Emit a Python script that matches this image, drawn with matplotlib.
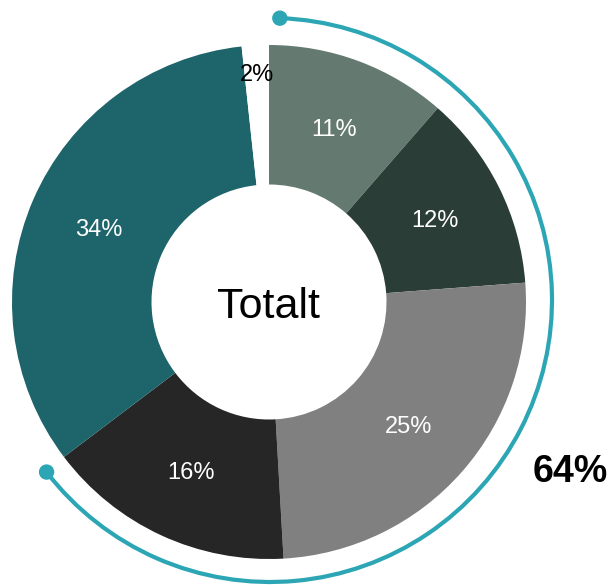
import numpy as np
import matplotlib.pyplot as plt
from matplotlib.patches import Arc, Circle

plt.rcParams['font.family'] = ['Liberation Sans', 'DejaVu Sans']

# ---------- Data ---------- #
shares = [11.4, 12.4, 25.3, 15.6, 33.6, 1.7]
labels = ["11%", "12%", "25%", "16%", "34%", "2%"]
colors = ["#647a70", "#2b3d37", "#808080", "#262626", "#1e646b", "#ffffff"]
label_colors = ["white", "white", "white", "white", "white", "black"]
highlight_share = 64   # first four slices
center_text = "Totalt"

# ---------- Geometry (pixel units) ---------- #
W, H = 610, 585
cx, cy = 269, H - 302
r_out, r_in = 257, 117.5
r_arc = 282

fig = plt.figure(figsize=(W / 100, H / 100), dpi=100)
ax = fig.add_axes([0, 0, 1, 1])

wedges, _ = ax.pie(shares, colors=colors, startangle=90, counterclock=False,
                   center=(cx, cy), radius=r_out,
                   wedgeprops=dict(width=r_out - r_in, edgecolor='none'))

# pie() resets limits, so set them afterwards
ax.set_xlim(0, W)
ax.set_ylim(0, H)
ax.set_aspect('equal')
ax.axis('off')

# slice labels
total = sum(shares)
start = 90
for i, (s, lab) in enumerate(zip(shares, labels)):
    span = s / total * 360
    mid = np.deg2rad(start - span / 2)
    r_lab = 229 if i == len(shares) - 1 else 186
    ax.text(cx + r_lab * np.cos(mid), cy + r_lab * np.sin(mid) - 2, lab,
            color=label_colors[i], fontsize=17, ha='center', va='center')
    start -= span

ax.text(cx, cy - 5, center_text, fontsize=31, ha='center', va='center')

# highlight arc with end dots
a0 = 88
a1 = a0 - highlight_share / 100 * 360
ax.add_patch(Arc((cx + 1, cy + 2), 2 * r_arc, 2 * r_arc, theta1=a1, theta2=a0,
                 color="#2ca6b4", lw=3))
for a in (a0, a1):
    t = np.deg2rad(a)
    ax.add_patch(Circle((cx + 1 + r_arc * np.cos(t), cy + 2 + r_arc * np.sin(t)), 7,
                        color="#2ca6b4"))

ax.text(570, H - 472, f"{highlight_share}%", fontsize=27, fontweight='bold',
        ha='center', va='center')

fig.savefig("out.png", dpi=100)
